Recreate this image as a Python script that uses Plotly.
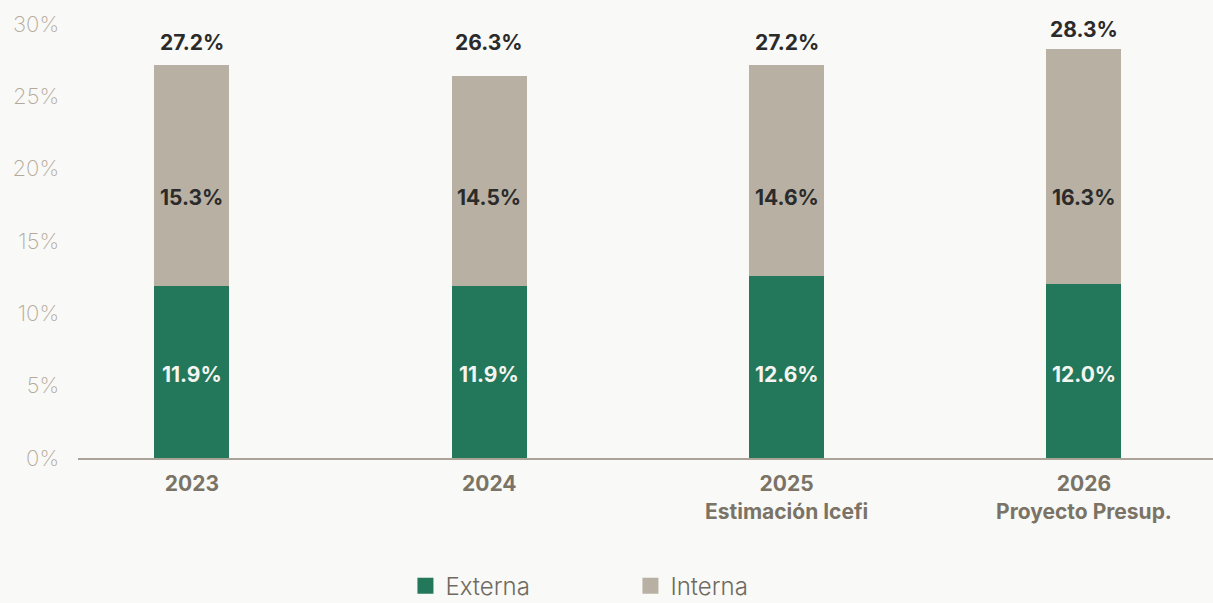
import plotly.graph_objects as go

# Debt composition (% of GDP) by year
years = ["2023", "2024", "2025", "2026"]
subtitles = ["", "", "Estimación Icefi", "Proyecto Presup."]
externa = [11.9, 11.9, 12.6, 12.0]
interna = [15.3, 14.5, 14.6, 16.3]
totales = [27.2, 26.3, 27.2, 28.3]
y_ticks = [0, 5, 10, 15, 20, 25, 30]

GREEN = "#23775a"
TAN = "#b8b0a3"
BG = "#f9f9f7"
FONT = "Inter"

x = list(range(len(years)))
ticktext = [f"<b>{y}</b>" + (f"<br><b>{s}</b>" if s else "") for y, s in zip(years, subtitles)]

fig = go.Figure()
fig.add_trace(go.Bar(x=x, y=externa, marker=dict(color=GREEN, line_width=0), width=0.252,
                     showlegend=False, hoverinfo="skip"))
fig.add_trace(go.Bar(x=x, y=interna, marker=dict(color=TAN, line_width=0), width=0.252,
                     showlegend=False, hoverinfo="skip"))

# legend entries with larger square swatches
for name, col in [("Externa", GREEN), ("Interna", TAN)]:
    fig.add_trace(go.Scatter(x=[None], y=[None], mode="markers", name=name,
                             marker=dict(symbol="square", size=18, color=col)))

label_font = dict(family=FONT, size=21, weight="bold")
# segment labels sit on two fixed rows
for i in x:
    fig.add_annotation(x=i, y=5.8, text=f"{externa[i]:.1f}%", showarrow=False,
                       font=dict(label_font, color="#f4f4f0"))
    fig.add_annotation(x=i, y=18.0, text=f"{interna[i]:.1f}%", showarrow=False,
                       font=dict(label_font, color="#2b2b2b"))
    fig.add_annotation(x=i, y=max(totales[i], 27.4), text=f"{totales[i]:.1f}%",
                       showarrow=False, yanchor="bottom", yshift=5,
                       font=dict(label_font, color="#2b2b2b"))

fig.update_layout(
    barmode="stack",
    width=1213, height=603,
    margin=dict(l=78, r=0, t=24, b=145, autoexpand=False),
    paper_bgcolor=BG, plot_bgcolor=BG,
    font=dict(family=FONT),
    legend=dict(orientation="h", traceorder="normal",
                x=0.2885, xanchor="left", yref="container", y=0.028, yanchor="middle",
                entrywidth=180, entrywidthmode="pixels", itemsizing="trace",
                font=dict(family=FONT, size=24, color="#6f6a60", weight=300),
                bgcolor="rgba(0,0,0,0)"),
    xaxis=dict(range=[-0.383, 3.434], tickvals=x, ticktext=ticktext,
               showgrid=False, zeroline=False, showline=True,
               linecolor="#aaa498", linewidth=2, ticks="",
               ticklabelstandoff=6,
               tickfont=dict(family=FONT, size=21, color="#7a7366")),
    yaxis=dict(range=[0, 30], tickvals=y_ticks,
               ticktext=[f"{v}%" for v in y_ticks],
               showgrid=False, zeroline=False, showline=False, ticks="",
               ticklabelstandoff=18,
               tickfont=dict(family=FONT, size=22, color="#b3aa9a", weight=200)),
)

fig.write_html("out.html")
